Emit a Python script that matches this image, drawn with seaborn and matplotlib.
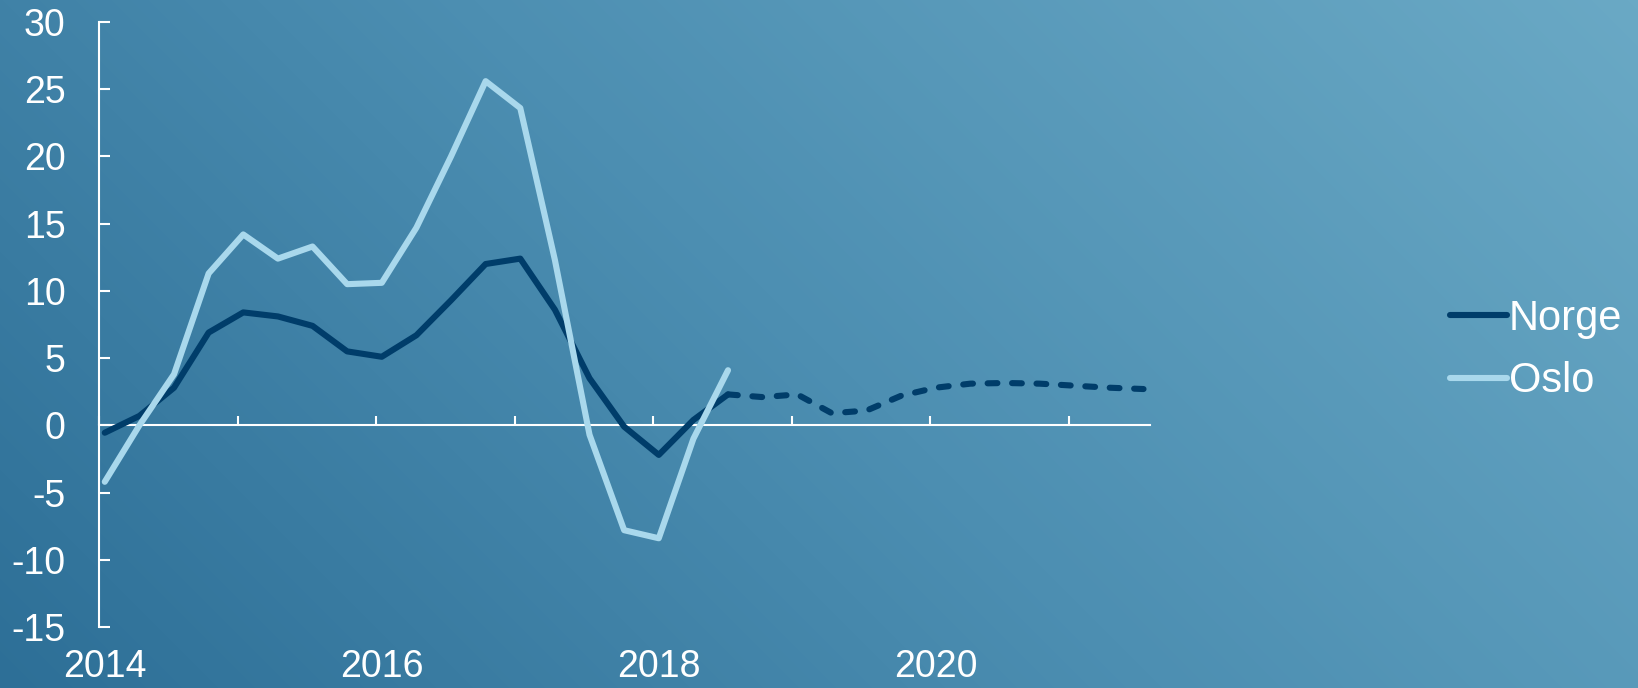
import numpy as np
import pandas as pd
import matplotlib
matplotlib.use("Agg")
import matplotlib.pyplot as plt
import seaborn as sns
from matplotlib.colors import LinearSegmentedColormap

# ---------------- data ----------------
quarters = pd.period_range("2014Q1", "2021Q3", freq="Q")
norge_actual = [-0.55, 0.7, 2.8, 6.9, 8.4, 8.1, 7.4, 5.5, 5.1, 6.7, 9.3, 12.0,
                12.4, 8.6, 3.5, -0.1, -2.2, 0.4, 2.3]               # 2014Q1-2018Q3
norge_forecast = [2.3, 2.1, 2.3, 0.9, 1.1, 2.2, 2.8, 3.1, 3.15, 3.1, 2.95,
                  2.8, 2.7]                                          # 2018Q3-2021Q3
oslo = [-4.2, 0.0, 3.8, 11.3, 14.2, 12.4, 13.3, 10.5, 10.6, 14.7, 20.0, 25.6,
        23.6, 12.3, -0.7, -7.8, -8.4, -1.0, 4.1]                     # 2014Q1-2018Q3
year_ticks = list(range(2014, 2022))
label_years = [2014, 2016, 2018, 2020]
label_texts = ["2014", "2016", "2018", "2020"]
y_ticks = list(range(-15, 31, 5))
series_names = ["Norge", "Oslo"]

NORGE_C = "#003d6a"
OSLO_C = "#a9d8ec"
WHITE = "white"

sns.set_theme(style="white")
plt.rcParams["font.family"] = ["Liberation Sans", "DejaVu Sans"]

def qpos(p):
    # middle of the first month of the quarter
    return p.year + (p.quarter - 1) / 4 + 1 / 24

x_all = [qpos(p) for p in quarters]
n_act = len(norge_actual)
df_act = pd.DataFrame({"x": x_all[:n_act], "Norge": norge_actual, "Oslo": oslo})
df_fc = pd.DataFrame({"x": x_all[n_act - 1:], "Norge": norge_forecast})

W, H = 1638, 688
fig = plt.figure(figsize=(W / 100, H / 100), dpi=100)

# ---------------- gradient background ----------------
bg = fig.add_axes([0, 0, 1, 1], zorder=-10)
yy, xx = np.mgrid[0:H, 0:W]
t = (xx + (H - yy)) / (W + H)
cmap = LinearSegmentedColormap.from_list("bg", ["#2d6f97", "#4d8fb2", "#6aa9c5"])
bg.imshow(t, cmap=cmap, aspect="auto", origin="upper", extent=[0, 1, 0, 1])
bg.set_axis_off()

# ---------------- main axes ----------------
left, right = 99, 1150
top, bottom = 22, 627
ax = fig.add_axes([left / W, 1 - bottom / H, (right - left) / W, (bottom - top) / H])
ax.set_facecolor("none")

lw = 4.4
sns.lineplot(data=df_act, x="x", y="Norge", color=NORGE_C, lw=lw, ax=ax,
             label=series_names[0], zorder=3)
sns.lineplot(data=df_act, x="x", y="Oslo", color=OSLO_C, lw=lw, ax=ax,
             label=series_names[1], zorder=3)
sns.lineplot(data=df_fc, x="x", y="Norge", color=NORGE_C, lw=lw, ax=ax,
             legend=False, zorder=3)
for ln in ax.lines[:2]:
    ln.set_solid_joinstyle("round")
fc_line = ax.lines[2]
fc_line.set_dashes((1.6, 2.4))
fc_line.set_dash_capstyle("round")
fc_line.set_dash_joinstyle("round")

year_px = 138.5
ax.set_xlim(2014, 2014 + (right - left) / year_px)
ax.set_ylim(-15, 30)

for s in ["top", "right"]:
    ax.spines[s].set_visible(False)
ax.spines["left"].set_color(WHITE)
ax.spines["left"].set_linewidth(1.5)
ax.spines["bottom"].set_position(("data", 0))
ax.spines["bottom"].set_color(WHITE)
ax.spines["bottom"].set_linewidth(1.5)

ax.set_yticks(y_ticks)
ax.set_yticklabels([str(v) for v in y_ticks])
ax.tick_params(axis="y", direction="in", length=8, width=1.5, colors=WHITE,
               labelsize=27, pad=24, left=True)
ax.set_xticks(year_ticks)
ax.set_xticklabels([""] * len(year_ticks))
ax.tick_params(axis="x", direction="in", length=6.5, width=1.5, colors=WHITE,
               bottom=True)
ax.set_xlabel("")
ax.set_ylabel("")

sec = ax.secondary_xaxis(0.0)
sec.set_xticks([y + 1 / 24 for y in label_years])
sec.set_xticklabels(label_texts)
sec.tick_params(axis="x", length=0, labelsize=27, labelcolor=WHITE, pad=16)
sec.spines["bottom"].set_visible(False)

# ---------------- legend ----------------
leg = ax.legend(loc="upper left", bbox_to_anchor=(1450 / W, 1 - 299 / H),
                bbox_transform=fig.transFigure, frameon=False, fontsize=30,
                handlelength=1.36, handletextpad=0.05, labelspacing=0.54,
                borderpad=0, borderaxespad=0)
for txt in leg.get_texts():
    txt.set_color(WHITE)
for h in leg.legend_handles:
    h.set_linewidth(lw)
    h.set_solid_capstyle("round")

fig.savefig("out.png", dpi=100)
